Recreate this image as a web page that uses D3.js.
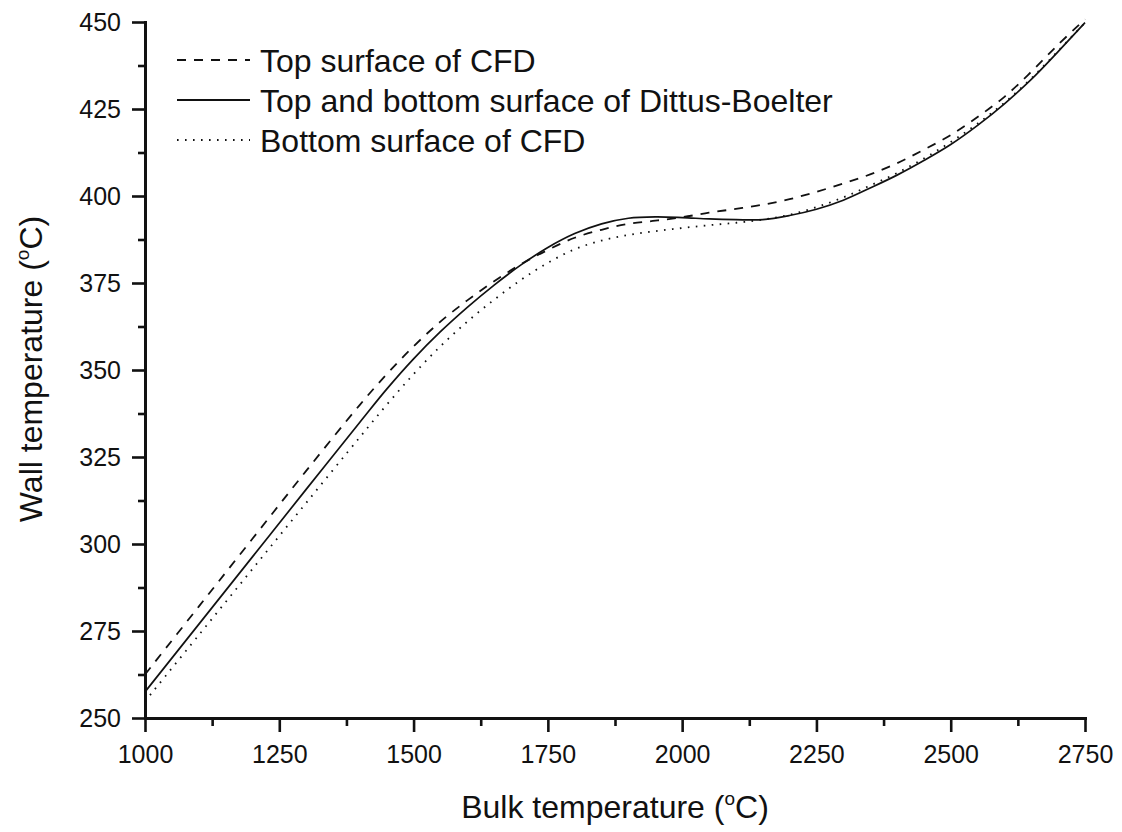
<!DOCTYPE html>
<html>
<head>
<meta charset="utf-8">
<script src="https://cdn.jsdelivr.net/npm/d3@7"></script>
<style>
  body { margin: 0; background: #fff; }
  text { font-family: "Liberation Sans", Arial, sans-serif; fill: #111; }
</style>
</head>
<body>
<svg id="chart" width="1122" height="832"></svg>
<script>
// bulk temperature (x) values
const bulkTemp = [1000, 1100, 1200, 1300, 1400, 1450, 1500, 1550, 1600, 1650, 1700, 1750,
  1800, 1850, 1900, 1950, 2000, 2050, 2100, 2150, 2200, 2250, 2300, 2350, 2400, 2450,
  2500, 2550, 2600, 2650, 2700, 2750];

// wall temperature series
const topCFD = [262.5, 282.0, 301.5, 321.0, 340.0, 348.8, 356.8, 363.9, 370.0, 375.5, 380.4, 384.5,
  388.0, 390.3, 392.0, 392.9, 393.9, 395.2, 396.3, 397.5, 399.1, 401.2, 403.6, 406.2, 409.4, 413.3,
  417.5, 422.7, 428.5, 435.7, 443.5, 450.8];
const dittusBoelter = [257.5, 276.9, 296.3, 315.7, 335.0, 344.5, 353.2, 361.0, 368.0, 374.4, 380.2, 385.2,
  389.2, 392.0, 393.6, 394.0, 393.8, 393.4, 393.2, 393.2, 394.4, 396.2, 398.8, 402.3, 406.0, 410.2,
  414.8, 420.3, 426.5, 433.5, 441.5, 449.8];
const bottomCFD = [254.8, 273.8, 292.8, 311.8, 330.7, 340.0, 348.8, 356.8, 363.9, 370.2, 375.9, 380.8,
  384.7, 387.2, 388.8, 389.9, 390.8, 391.6, 392.3, 393.2, 394.6, 396.8, 399.6, 403.0, 406.6, 410.8,
  415.5, 420.8, 426.8, 433.8, 441.7, 449.8];

const xTicks = [1000, 1250, 1500, 1750, 2000, 2250, 2500, 2750];
const xMinor = [1125, 1375, 1625, 1875, 2125, 2375, 2625];
const yTicks = [250, 275, 300, 325, 350, 375, 400, 425, 450];
const yMinor = [262.5, 287.5, 312.5, 337.5, 362.5, 387.5, 412.5, 437.5];

const legendLabels = ["Top surface of CFD", "Top and bottom surface of Dittus-Boelter", "Bottom surface of CFD"];
const seriesList = [topCFD, dittusBoelter, bottomCFD];
const dashes = ["9,8", null, "1.6,6.4"];

const svg = d3.select("#chart");

// SCALES
const x = d3.scaleLinear().domain([1000, 2750]).range([145, 1085]);
const y = d3.scaleLinear().domain([250, 450]).range([718, 22]);

// MINOR TICKS
svg.append("g")
  .attr("transform", "translate(0,718)")
  .call(d3.axisBottom(x).tickValues(xMinor).tickSize(8).tickFormat(""))
  .call(g => g.select(".domain").remove());
svg.append("g")
  .attr("transform", "translate(145,0)")
  .call(d3.axisLeft(y).tickValues(yMinor).tickSize(7).tickFormat(""))
  .call(g => g.select(".domain").remove());

// MAJOR AXES
svg.append("g")
  .attr("transform", "translate(0,718)")
  .call(d3.axisBottom(x).tickValues(xTicks).tickSize(14).tickSizeOuter(0).tickPadding(13).tickFormat(d3.format("d")));
svg.append("g")
  .attr("transform", "translate(145,0)")
  .call(d3.axisLeft(y).tickValues(yTicks).tickSize(13).tickSizeOuter(0).tickPadding(11));

svg.selectAll(".tick line").attr("stroke", "#111").attr("stroke-width", 2.6);
svg.selectAll(".domain").attr("stroke", "#111").attr("stroke-width", 3).attr("stroke-linecap", "square");
svg.selectAll(".tick text").attr("font-size", 25).attr("fill", "#111")
  .style("font-family", "'Liberation Sans', Arial, sans-serif");

// LINES
const line = d3.line()
  .x((d, i) => x(bulkTemp[i]))
  .y(d => y(d))
  .curve(d3.curveCatmullRom.alpha(0.5));

seriesList.forEach((s, i) => {
  svg.append("path")
    .datum(s)
    .attr("fill", "none")
    .attr("stroke", "#111")
    .attr("stroke-width", i === 1 ? 1.7 : 1.8)
    .attr("stroke-dasharray", dashes[i])
    .attr("d", line);
});

// LEGEND
const legend = svg.append("g");
legendLabels.forEach((lab, i) => {
  const ly = 60 + i * 40;
  legend.append("line")
    .attr("x1", 177).attr("x2", 250)
    .attr("y1", ly).attr("y2", ly)
    .attr("stroke", "#111")
    .attr("stroke-width", 1.8)
    .attr("stroke-dasharray", dashes[i]);
  legend.append("text")
    .attr("x", 260)
    .attr("y", ly + 12)
    .attr("font-size", 32)
    .text(lab);
});

// AXIS TITLES
const xTitle = svg.append("text")
  .attr("x", 615).attr("y", 818)
  .attr("text-anchor", "middle")
  .attr("font-size", 32);
xTitle.append("tspan").text("Bulk temperature (");
xTitle.append("tspan").attr("font-size", 19).attr("dy", -13).text("o");
xTitle.append("tspan").attr("dy", 13).text("C)");

const yTitle = svg.append("text")
  .attr("transform", "translate(42,369) rotate(-90)")
  .attr("text-anchor", "middle")
  .attr("font-size", 32);
yTitle.append("tspan").text("Wall temperature (");
yTitle.append("tspan").attr("font-size", 19).attr("dy", -13).text("o");
yTitle.append("tspan").attr("dy", 13).text("C)");
</script>
</body>
</html>
